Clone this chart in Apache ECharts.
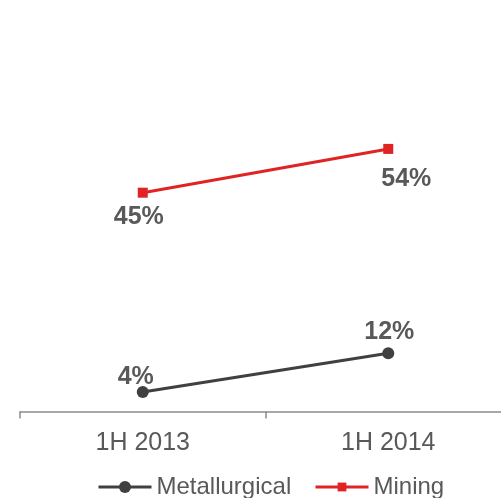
<!DOCTYPE html>
<html>
<head>
<meta charset="utf-8">
<script src="https://cdn.jsdelivr.net/npm/echarts@6/dist/echarts.min.js"></script>
<style>
  html, body { margin: 0; padding: 0; background: #fff; width: 501px; height: 498px; overflow: hidden; }
  /* the axis runs slightly past the right edge, so the canvas is a bit wider than the view */
  #chart { width: 511px; height: 498px; }
</style>
</head>
<body>
<div id="chart"></div>
<script>
// Share of revenue by segment (%)
const periods = ['1H 2013', '1H 2014'];
const metallurgical = [4, 12];
const mining = [45, 54];

const textColor = '#595959';
const darkColor = '#404040';
const redColor = '#e02424';
const font = 'Liberation Sans, Arial, sans-serif';

const chart = echarts.init(document.getElementById('chart'));

const labelStyle = {
  show: true,
  formatter: p => p.value + '%',
  color: textColor,
  fontFamily: font,
  fontWeight: 'bold',
  fontSize: 25,
  distance: 0
};

// per-point label nudges
const metLabelOffsets = [[-7, 3.5], [1, -2.5]];
const minLabelOffsets = [[-4, 6.5], [18, 13]];

const legendText = { color: textColor, fontFamily: font, fontSize: 24 };

chart.setOption({
  animation: false,
  grid: { left: 20, right: 0, top: 22.5, height: 389, containLabel: false },
  xAxis: {
    type: 'category',
    data: periods,
    boundaryGap: true,
    axisLine: { lineStyle: { color: '#8c8c8c', width: 1.5 } },
    axisTick: { show: true, length: 7, lineStyle: { color: '#8c8c8c', width: 1.5 } },
    axisLabel: { color: textColor, fontFamily: font, fontSize: 25, margin: 19 }
  },
  yAxis: {
    type: 'value',
    min: 0,
    max: 80,
    show: false,
    splitLine: { show: false }
  },
  legend: [
    {
      top: 475, left: 97, padding: 0,
      itemWidth: 53, itemHeight: 15,
      lineStyle: { width: 3 },
      textStyle: legendText,
      data: ['Metallurgical']
    },
    {
      top: 475, left: 314, padding: 0,
      itemWidth: 53, itemHeight: 11,
      lineStyle: { width: 3 },
      textStyle: legendText,
      data: ['Mining']
    }
  ],
  series: [
    {
      name: 'Metallurgical',
      type: 'line',
      data: metallurgical.map((v, i) => ({ value: v, label: { offset: metLabelOffsets[i] } })),
      symbol: 'circle',
      symbolSize: 12,
      lineStyle: { color: darkColor, width: 3 },
      itemStyle: { color: darkColor },
      label: Object.assign({}, labelStyle, { position: 'top' })
    },
    {
      name: 'Mining',
      type: 'line',
      data: mining.map((v, i) => ({ value: v, label: { offset: minLabelOffsets[i] } })),
      symbol: 'rect',
      symbolSize: 10,
      lineStyle: { color: redColor, width: 3 },
      itemStyle: { color: redColor },
      label: Object.assign({}, labelStyle, { position: 'bottom' })
    }
  ]
});
</script>
</body>
</html>
